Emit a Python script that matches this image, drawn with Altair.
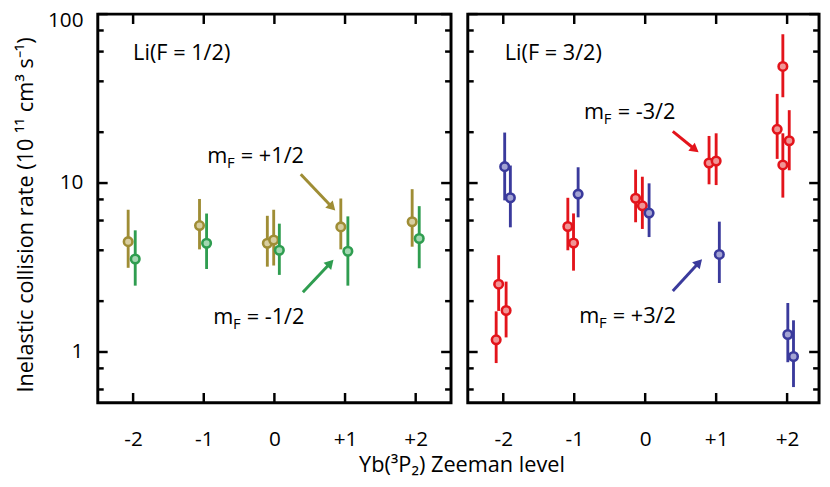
import altair as alt
import pandas as pd

FONT = "Open Sans"

# ---------------- data ----------------
# Left panel: Li(F = 1/2)
plus_half_x  = [-2.07, -1.06, -0.10, -0.01, 0.94, 1.95]
plus_half_y  = [4.5, 5.6, 4.4, 4.6, 5.5, 5.9]
plus_half_lo = [3.15, 4.05, 3.2, 3.25, 4.05, 4.2]
plus_half_hi = [6.95, 8.05, 6.4, 6.95, 8.1, 9.2]

minus_half_x  = [-1.97, -0.96, 0.07, 1.04, 2.05]
minus_half_y  = [3.55, 4.4, 4.0, 3.95, 4.7]
minus_half_lo = [2.47, 3.1, 2.86, 2.47, 3.13]
minus_half_hi = [5.25, 6.6, 5.75, 6.35, 7.3]

# Right panel: Li(F = 3/2)
minus_3half_x  = [-2.065, -1.96, -2.10, -1.09, -1.01, -0.135, -0.04, 0.90, 1.0, 1.86, 1.94, 1.94, 2.03]
minus_3half_y  = [2.52, 1.76, 1.18, 5.53, 4.42, 8.13, 7.33, 13.15, 13.5, 20.8, 49.0, 12.8, 17.8]
minus_3half_lo = [1.75, 1.22, 0.86, 4.0, 3.03, 5.86, 5.35, 9.83, 9.73, 13.9, 32.2, 8.2, 11.9]
minus_3half_hi = [3.74, 2.61, 1.74, 8.18, 6.61, 12.0, 10.9, 19.0, 19.7, 33.7, 76.0, 19.7, 27.0]

plus_3half_x  = [-1.98, -1.90, -0.945, 0.055, 1.045, 2.01, 2.09]
plus_3half_y  = [12.5, 8.18, 8.6, 6.64, 3.78, 1.27, 0.94]
plus_3half_lo = [7.9, 5.47, 6.27, 4.79, 2.56, 0.87, 0.62]
plus_3half_hi = [19.9, 12.7, 12.4, 9.96, 5.91, 1.95, 1.54]

zeeman_levels = [-2, -1, 0, 1, 2]
y_major = [1, 10, 100]
y_minor = [0.6, 0.8, 2, 4, 6, 8, 20, 40, 60, 80]

panel_titles = ["Li(F = 1/2)", "Li(F = 3/2)"]
title_pos = [(-2.0, 59.0), (-1.98, 59.0)]

# annotation labels: (text after "m_F", anchor x, anchor y)
ann_left = [("= +1/2", -0.95, 14.4), ("= -1/2", -0.867, 1.61)]
ann_right = [("= -3/2", -0.861, 26.4), ("= +3/2", -0.93, 1.64)]
# arrows: tail x, tail y, head x, head y, head angle
arrows_left = [(0.373, 11.27, 0.817, 7.19, 136), (0.403, 2.26, 0.793, 3.36, 43)]
arrows_right = [(0.389, 20.2, 0.703, 15.8, 128), (0.389, 2.3, 0.758, 3.39, 43)]

OLIVE, OLIVE_F = "#9f8d35", "#d8cea0"
GREEN, GREEN_F = "#2f9d50", "#a4d8b2"
RED, RED_F = "#e3141b", "#f09596"
BLUE, BLUE_F = "#3a3a9c", "#a3a3d3"

H = 394
YTITLE = "Inelastic collision rate (10 \u00b9\u00b9 cm\u00b3 s\u207b\u00b9)"


def series_df(x, y, lo, hi):
    return pd.DataFrame({"x": x, "y": y, "lo": lo, "hi": hi})


def panel(width, xdom, series, title_text, tpos, anns, arrows, show_y):
    xscale = alt.Scale(domain=xdom, nice=False, zero=False)
    yscale = alt.Scale(type="log", domain=[0.5, 100], nice=False)
    xaxis = alt.Axis(values=zeeman_levels, ticks=False, domain=False, grid=False,
                     title=None, labelFontSize=21, labelFont=FONT, labelColor="black",
                     labelPadding=26,
                     labelExpr="datum.value > 0 ? '+' + datum.value : '' + datum.value")
    if show_y:
        yaxis = alt.Axis(values=y_major, format="d", ticks=False, domain=False, grid=False,
                         title=YTITLE, titleFontSize=22, titleFont=FONT, titleFontWeight="normal",
                         titleColor="black", titlePadding=10, titleY=203,
                         labelFontSize=21, labelFont=FONT, labelColor="black", labelPadding=15,
                         labelOffset={"condition": {"test": "datum.value == 100", "value": 7}, "value": 0})
    else:
        yaxis = alt.Axis(values=y_major, ticks=False, domain=False, grid=False,
                         labels=False, title=None)

    def X(f):
        return alt.X(f, type="quantitative", scale=xscale, axis=xaxis)

    def Y(f):
        return alt.Y(f, type="quantitative", scale=yscale, axis=yaxis)

    layers = []
    # ticks (inward)
    ymaj = pd.DataFrame({"y": y_major})
    ymin = pd.DataFrame({"y": y_minor})
    xt = pd.DataFrame({"x": zeeman_levels})
    tk = dict(color="black", strokeWidth=2.5)
    layers.append(alt.Chart(ymaj).mark_rule(**tk).encode(y=Y("y"), x=alt.value(0), x2=alt.value(10)))
    layers.append(alt.Chart(ymaj).mark_rule(**tk).encode(y=Y("y"), x=alt.value(width), x2=alt.value(width - 10)))
    layers.append(alt.Chart(ymin).mark_rule(**tk).encode(y=Y("y"), x=alt.value(0), x2=alt.value(6)))
    layers.append(alt.Chart(ymin).mark_rule(**tk).encode(y=Y("y"), x=alt.value(width), x2=alt.value(width - 6)))
    layers.append(alt.Chart(xt).mark_rule(**tk).encode(x=X("x"), y=alt.value(0), y2=alt.value(10)))
    layers.append(alt.Chart(xt).mark_rule(**tk).encode(x=X("x"), y=alt.value(H), y2=alt.value(H - 10)))

    for df, col, fill in series:
        layers.append(alt.Chart(df).mark_rule(color=col, strokeWidth=2.9).encode(
            x=X("x"), y=Y("lo"), y2=alt.Y2("hi")))
        layers.append(alt.Chart(df).mark_point(shape="circle", size=75, filled=True, fill=fill,
                                                stroke=col, strokeWidth=2.6, opacity=1).encode(
            x=X("x"), y=Y("y")))

    # panel title
    tdf = pd.DataFrame({"x": [tpos[0]], "y": [tpos[1]], "t": [title_text]})
    layers.append(alt.Chart(tdf).mark_text(align="left", baseline="middle", font=FONT,
                                           fontSize=22, color="black").encode(
        x=X("x"), y=Y("y"), text="t:N"))

    # m_F annotations and arrows
    for (rest, ax, ay), (tx, ty, hx, hy, ang), col in zip(anns, arrows, [s[1] for s in series]):
        adf = pd.DataFrame({"x": [ax], "y": [ay], "m": ["m"], "f": ["F"], "r": [rest]})
        layers.append(alt.Chart(adf).mark_text(align="left", baseline="middle", font=FONT,
                                               fontSize=22, color="black").encode(
            x=X("x"), y=Y("y"), text="m:N"))
        layers.append(alt.Chart(adf).mark_text(align="left", baseline="middle", font=FONT,
                                               fontSize=15, color="black", dx=20, dy=7).encode(
            x=X("x"), y=Y("y"), text="f:N"))
        layers.append(alt.Chart(adf).mark_text(align="left", baseline="middle", font=FONT,
                                               fontSize=22, color="black", dx=34).encode(
            x=X("x"), y=Y("y"), text="r:N"))
        rdf = pd.DataFrame({"x": [tx], "y": [ty], "x2": [hx], "y2": [hy], "a": [ang]})
        layers.append(alt.Chart(rdf).mark_rule(color=col, strokeWidth=3).encode(
            x=X("x"), y=Y("y"), x2=alt.X2("x2"), y2=alt.Y2("y2")))
        layers.append(alt.Chart(rdf).mark_point(shape="triangle-up", size=110, filled=True,
                                                color=col, opacity=1).encode(
            x=X("x2"), y=Y("y2"), angle=alt.Angle("a:Q", scale=None)))

    return alt.layer(*layers).properties(width=width, height=H)


left = panel(358, [-2.5, 2.5],
             [(series_df(plus_half_x, plus_half_y, plus_half_lo, plus_half_hi), OLIVE, OLIVE_F),
              (series_df(minus_half_x, minus_half_y, minus_half_lo, minus_half_hi), GREEN, GREEN_F)],
             panel_titles[0], title_pos[0], ann_left, arrows_left, True)
right = panel(356, [-2.5, 2.45],
              [(series_df(minus_3half_x, minus_3half_y, minus_3half_lo, minus_3half_hi), RED, RED_F),
               (series_df(plus_3half_x, plus_3half_y, plus_3half_lo, plus_3half_hi), BLUE, BLUE_F)],
              panel_titles[1], title_pos[1], ann_right, arrows_right, False)

chart = alt.hconcat(left, right, spacing=11).resolve_scale(x="independent", y="independent").properties(
    title=alt.TitleParams("Yb(\u00b3P\u2082) Zeeman level", orient="bottom", anchor="middle",
                          fontSize=22, font=FONT, fontWeight="normal", color="black", offset=5, dx=45),
    padding={"left": 5, "top": -3, "right": 0, "bottom": 0},
).configure_view(stroke="black", strokeWidth=3)

chart.save("out.html", embed_options={"renderer": "svg", "actions": False})
